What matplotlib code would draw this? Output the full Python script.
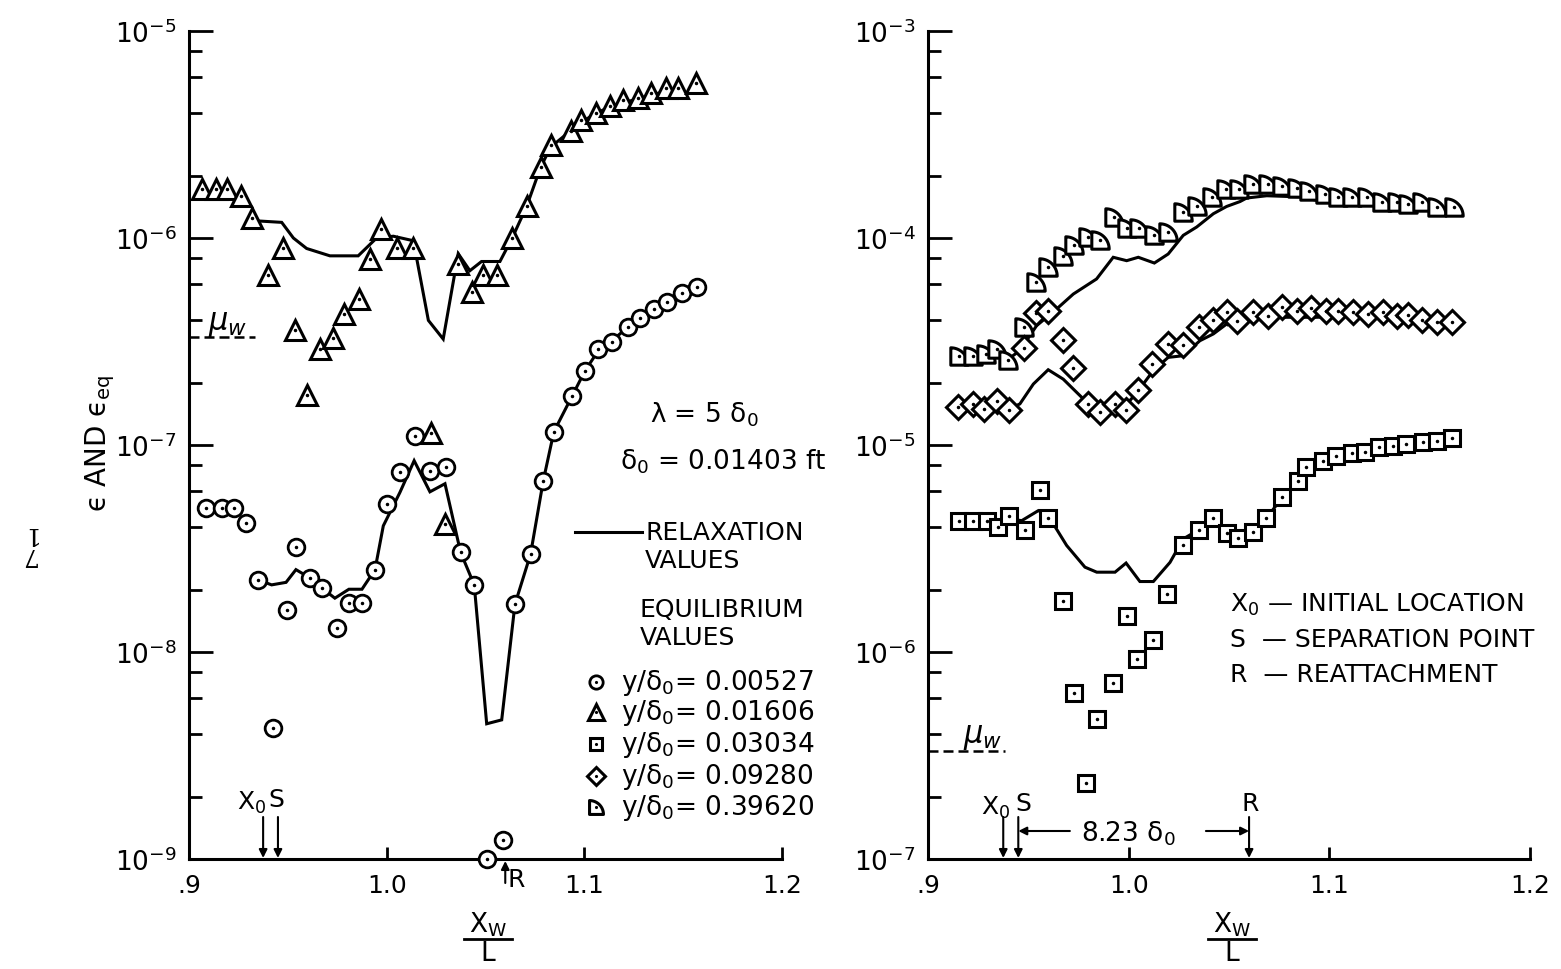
import numpy as np
import matplotlib
matplotlib.use("Agg")
import matplotlib.pyplot as plt
from matplotlib.path import Path
from matplotlib.lines import Line2D
from matplotlib.ticker import LogLocator, NullFormatter, NullLocator, FixedLocator, FixedFormatter

# ---------------- data ----------------
x_ticks = [0.9, 1.0, 1.1, 1.2]
x_tick_labels = [".9", "1.0", "1.1", "1.2"]
MU_W = 3.33e-7
X0_POS, S_POS, R_POS = 0.9375, 0.945, 1.06

legend_labels = ["y/δ$_0$= 0.00527", "y/δ$_0$= 0.01606", "y/δ$_0$= 0.03034",
                 "y/δ$_0$= 0.09280", "y/δ$_0$= 0.39620"]

# left panel: y/d0 = 0.00527 (circles)
L_circ_x = [0.9086, 0.9165, 0.9229, 0.9288, 0.9350, 0.9427, 0.9494, 0.9541, 0.9612, 0.9674,
            0.9747, 0.9809, 0.9875, 0.9941, 1.0000, 1.0067, 1.0143, 1.0219, 1.0298, 1.0374,
            1.0443, 1.0506, 1.0587, 1.0649, 1.0728, 1.0792, 1.0846, 1.0939, 1.1003, 1.1070,
            1.1141, 1.1219, 1.1281, 1.1352, 1.1419, 1.1492, 1.1571]
L_circ_y = [4.97e-8, 4.97e-8, 4.97e-8, 4.2e-8, 2.23e-8, 4.28e-9, 1.6e-8, 3.23e-8, 2.28e-8, 2.03e-8,
            1.3e-8, 1.73e-8, 1.73e-8, 2.5e-8, 5.2e-8, 7.4e-8, 1.1e-7, 7.5e-8, 7.8e-8, 3.03e-8,
            2.11e-8, 1.0e-9, 1.23e-9, 1.7e-8, 2.97e-8, 6.7e-8, 1.16e-7, 1.73e-7, 2.28e-7, 2.91e-7,
            3.16e-7, 3.71e-7, 4.11e-7, 4.54e-7, 4.92e-7, 5.42e-7, 5.78e-7]
L_circ_rel_x = [0.9350, 0.9418, 0.9491, 0.9541, 0.9612, 0.9674, 0.9738, 0.9809, 0.9875, 0.9941,
                0.9983, 1.0067, 1.0139, 1.0219, 1.0295, 1.0374, 1.0443, 1.0506, 1.0582, 1.0649,
                1.0728, 1.0792, 1.0846, 1.0939, 1.1003, 1.1070, 1.1141, 1.1219, 1.1281, 1.1352,
                1.1419, 1.1492, 1.1571]
L_circ_rel_y = [2.23e-8, 2.11e-8, 2.17e-8, 2.5e-8, 2.28e-8, 2.03e-8, 1.82e-8, 2.01e-8, 2.01e-8, 2.5e-8,
                4.07e-8, 5.9e-8, 8.4e-8, 5.94e-8, 6.5e-8, 3.03e-8, 2.11e-8, 4.5e-9, 4.7e-9, 1.7e-8,
                2.97e-8, 6.7e-8, 1.16e-7, 1.73e-7, 2.28e-7, 2.85e-7, 3.2e-7, 3.7e-7, 4.1e-7, 4.5e-7,
                4.9e-7, 5.4e-7, 5.78e-7]

# left panel: y/d0 = 0.01606 (triangles)
L_tri_x = [0.9064, 0.9135, 0.9194, 0.9263, 0.9320, 0.9400, 0.9474, 0.9536, 0.9595, 0.9663,
           0.9727, 0.9783, 0.9861, 0.9916, 0.9971, 1.0054, 1.0135, 1.0223, 1.0295, 1.0362,
           1.0430, 1.0486, 1.0557, 1.0635, 1.0708, 1.0779, 1.0830, 1.0931, 1.0981, 1.1057,
           1.1130, 1.1197, 1.1270, 1.1335, 1.1411, 1.1472, 1.1563]
L_tri_y = [1.73e-6, 1.73e-6, 1.73e-6, 1.60e-6, 1.25e-6, 6.6e-7, 8.9e-7, 3.6e-7, 1.75e-7, 2.9e-7,
           3.3e-7, 4.3e-7, 5.1e-7, 7.9e-7, 1.10e-6, 8.9e-7, 8.9e-7, 1.14e-7, 4.15e-8, 7.5e-7,
           5.5e-7, 6.6e-7, 6.6e-7, 1.0e-6, 1.42e-6, 2.21e-6, 2.82e-6, 3.27e-6, 3.72e-6, 4.02e-6,
           4.33e-6, 4.64e-6, 4.77e-6, 5.01e-6, 5.28e-6, 5.28e-6, 5.59e-6]
L_tri_rel_x = [0.9342, 0.9469, 0.9528, 0.9595, 0.9713, 0.9856, 0.9949, 1.0034, 1.0135, 1.0211,
               1.0286, 1.0362, 1.0421, 1.0480, 1.0573, 1.0635, 1.0708, 1.0779, 1.0830, 1.0931,
               1.0981, 1.1057, 1.1130, 1.1197, 1.1270, 1.1335, 1.1411, 1.1480]
L_tri_rel_y = [1.21e-6, 1.19e-6, 1.0e-6, 8.9e-7, 8.2e-7, 8.2e-7, 1.0e-6, 1.02e-6, 9.7e-7, 4.0e-7,
               3.25e-7, 8.4e-7, 6.95e-7, 7.7e-7, 7.7e-7, 1.0e-6, 1.42e-6, 2.2e-6, 2.75e-6, 3.3e-6,
               3.6e-6, 4.0e-6, 4.3e-6, 4.5e-6, 4.7e-6, 4.9e-6, 5.1e-6, 5.2e-6]

# right panel: y/d0 = 0.03034 (squares)
R_sq_x = [0.9156, 0.9226, 0.9292, 0.9350, 0.9405, 0.9483, 0.9558, 0.9599, 0.9674, 0.9729,
          0.9787, 0.9841, 0.9920, 0.9990, 1.0040, 1.0123, 1.0189, 1.0272, 1.0350, 1.0422,
          1.0491, 1.0546, 1.0618, 1.0684, 1.0765, 1.0842, 1.0883, 1.0970, 1.1031, 1.1114,
          1.1177, 1.1247, 1.1315, 1.1380, 1.1465, 1.1535, 1.1612]
R_sq_y = [4.31e-6, 4.31e-6, 4.31e-6, 4.0e-6, 4.53e-6, 3.9e-6, 6.07e-6, 4.43e-6, 1.76e-6, 6.31e-7,
          2.33e-7, 4.74e-7, 7.06e-7, 1.49e-6, 9.24e-7, 1.14e-6, 1.9e-6, 3.29e-6, 3.88e-6, 4.42e-6,
          3.74e-6, 3.54e-6, 3.78e-6, 4.42e-6, 5.62e-6, 6.68e-6, 7.8e-6, 8.34e-6, 8.88e-6, 9.14e-6,
          9.22e-6, 9.75e-6, 9.86e-6, 1.01e-5, 1.03e-5, 1.04e-5, 1.08e-5]
R_sq_rel_x = [0.9156, 0.9292, 0.9405, 0.9467, 0.9550, 0.9599, 0.9691, 0.9782, 0.9841, 0.9932,
              0.9987, 1.0056, 1.0123, 1.0206, 1.0272, 1.0347, 1.0422, 1.0491, 1.0546, 1.0618,
              1.0684, 1.0765, 1.0842, 1.0883, 1.0970, 1.1031, 1.1114, 1.1247, 1.1380, 1.1535]
R_sq_rel_y = [4.31e-6, 4.31e-6, 4.4e-6, 4.31e-6, 4.82e-6, 4.56e-6, 3.27e-6, 2.57e-6, 2.43e-6, 2.43e-6,
              2.69e-6, 2.19e-6, 2.19e-6, 2.71e-6, 3.52e-6, 3.88e-6, 4.3e-6, 3.85e-6, 3.66e-6, 3.8e-6,
              4.4e-6, 5.57e-6, 6.6e-6, 7.5e-6, 8.3e-6, 8.9e-6, 9.2e-6, 9.7e-6, 1.0e-5, 1.04e-5]

# right panel: y/d0 = 0.09280 (diamonds)
R_dia_x = [0.9148, 0.9223, 0.9280, 0.9345, 0.9405, 0.9478, 0.9538, 0.9599, 0.9671, 0.9724,
           0.9799, 0.9857, 0.9932, 0.9985, 1.0048, 1.0118, 1.0197, 1.0272, 1.0352, 1.0422,
           1.0488, 1.0540, 1.0621, 1.0696, 1.0762, 1.0837, 1.0907, 1.0982, 1.1041, 1.1119,
           1.1191, 1.1266, 1.1335, 1.1393, 1.1460, 1.1535, 1.1612]
R_dia_y = [1.53e-5, 1.58e-5, 1.49e-5, 1.64e-5, 1.47e-5, 2.93e-5, 4.34e-5, 4.43e-5, 3.23e-5, 2.35e-5,
           1.58e-5, 1.45e-5, 1.58e-5, 1.47e-5, 1.85e-5, 2.46e-5, 3.08e-5, 3.04e-5, 3.71e-5, 4.03e-5,
           4.38e-5, 3.98e-5, 4.38e-5, 4.19e-5, 4.63e-5, 4.43e-5, 4.57e-5, 4.43e-5, 4.43e-5, 4.38e-5,
           4.3e-5, 4.38e-5, 4.19e-5, 4.26e-5, 4.03e-5, 3.94e-5, 3.92e-5]
R_dia_rel_x = [0.9405, 0.9458, 0.9525, 0.9599, 0.9674, 0.9774, 0.9857, 0.9932, 0.9985, 1.0048,
               1.0123, 1.0197, 1.0272, 1.0355, 1.0422, 1.0488, 1.0538, 1.0604, 1.0770, 1.0937,
               1.1100, 1.1300, 1.1550]
R_dia_rel_y = [1.49e-5, 1.58e-5, 1.97e-5, 2.31e-5, 2.08e-5, 1.67e-5, 1.49e-5, 1.52e-5, 1.55e-5, 1.83e-5,
               2.29e-5, 2.65e-5, 2.7e-5, 3.19e-5, 3.44e-5, 3.84e-5, 3.92e-5, 4.06e-5, 4.14e-5, 4.14e-5,
               4.2e-5, 4.15e-5, 3.9e-5]

# right panel: y/d0 = 0.39620 (quarter-disc markers)
R_trap_x = [0.9156, 0.9223, 0.9287, 0.9345, 0.9397, 0.9480, 0.9538, 0.9599, 0.9671, 0.9727,
            0.9799, 0.9857, 0.9928, 0.9990, 1.0051, 1.0128, 1.0194, 1.0272, 1.0342, 1.0415,
            1.0485, 1.0550, 1.0621, 1.0696, 1.0765, 1.0840, 1.0900, 1.0978, 1.1041, 1.1111,
            1.1186, 1.1261, 1.1335, 1.1393, 1.1460, 1.1535, 1.1621]
R_trap_y = [2.70e-5, 2.70e-5, 2.75e-5, 2.91e-5, 2.58e-5, 3.73e-5, 6.15e-5, 7.22e-5, 8.2e-5, 9.24e-5,
            1.01e-4, 9.8e-5, 1.27e-4, 1.12e-4, 1.12e-4, 1.03e-4, 1.07e-4, 1.33e-4, 1.43e-4, 1.57e-4,
            1.73e-4, 1.73e-4, 1.82e-4, 1.82e-4, 1.78e-4, 1.74e-4, 1.69e-4, 1.64e-4, 1.58e-4, 1.58e-4,
            1.57e-4, 1.50e-4, 1.50e-4, 1.46e-4, 1.49e-4, 1.41e-4, 1.41e-4]
R_trap_rel_x = [0.9405, 0.9458, 0.9541, 0.9641, 0.9724, 0.9840, 0.9923, 0.9990, 1.0048, 1.0128,
                1.0197, 1.0272, 1.0339, 1.0422, 1.0488, 1.0555, 1.0588, 1.0688, 1.0853, 1.0953,
                1.1103, 1.1300, 1.1500]
R_trap_rel_y = [2.62e-5, 2.86e-5, 3.77e-5, 4.54e-5, 5.36e-5, 6.34e-5, 8.07e-5, 7.77e-5, 8.07e-5, 7.57e-5,
                8.37e-5, 1.03e-4, 1.13e-4, 1.31e-4, 1.42e-4, 1.50e-4, 1.56e-4, 1.6e-4, 1.58e-4, 1.51e-4,
                1.49e-4, 1.48e-4, 1.43e-4]

# ---------------- figure ----------------
W, H = 1561, 970
plt.rcParams['font.family'] = ['DejaVu Sans']
plt.rcParams['mathtext.fontset'] = 'dejavusans'
fig = plt.figure(figsize=(W / 100, H / 100), dpi=100)


def F(px, py):
    return (px / W, 1 - py / H)


# quarter-disc marker
_t = np.linspace(0, np.pi / 2, 24)
_verts = [(-0.5, -0.5)] + [(-0.5 + np.cos(a), -0.5 + np.sin(a)) for a in _t] + [(-0.5, -0.5)]
QMARK = Path(_verts, closed=True)

MK = dict(mfc='white', mec='black', ls='none', clip_on=False, zorder=4)
DOT = dict(marker='.', ms=3, color='black', ls='none', clip_on=False, zorder=5)
LINE = dict(color='black', lw=2.2, zorder=3, solid_joinstyle='miter')

styles = {
    'circ': dict(marker='o', ms=12, mew=2.0),
    'tri': dict(marker='^', ms=14, mew=2.2),
    'sq': dict(marker='s', ms=11, mew=2.2),
    'dia': dict(marker='D', ms=12, mew=2.2),
    'trap': dict(marker=QMARK, ms=12.5, mew=2.2),
}


def markers(ax, x, y, key):
    ax.plot(x, y, **styles[key], **MK)
    ax.plot(x, y, **DOT)


def style_axes(ax, ylim):
    ax.set_yscale('log')
    ax.set_xlim(0.9, 1.2)
    ax.set_ylim(*ylim)
    for s in ['top', 'right']:
        ax.spines[s].set_visible(False)
    for s in ['left', 'bottom']:
        ax.spines[s].set_linewidth(2.2)
    ax.xaxis.set_major_locator(FixedLocator(x_ticks))
    ax.xaxis.set_major_formatter(FixedFormatter(x_tick_labels))
    ax.xaxis.set_minor_locator(NullLocator())
    ax.yaxis.set_major_locator(LogLocator(base=10, numticks=10))
    ax.yaxis.set_minor_locator(LogLocator(base=10, subs=(2, 4, 6, 8), numticks=20))
    ax.yaxis.set_minor_formatter(NullFormatter())
    ax.tick_params(axis='y', which='major', direction='in', length=17, width=2.0,
                   labelsize=19, pad=9)
    ax.tick_params(axis='y', which='minor', direction='in', length=9, width=2.0)
    ax.tick_params(axis='x', which='major', direction='in', length=9, width=2.0,
                   labelsize=18, pad=10)
    ax.xaxis.label.set_visible(False)
    ax.yaxis.label.set_visible(False)
    ax.xaxis.get_offset_text().set_visible(False)
    ax.yaxis.get_offset_text().set_visible(False)


axL = fig.add_axes([189 / W, 1 - 860 / H, (782 - 189) / W, (860 - 32) / H])
axR = fig.add_axes([928 / W, 1 - 860 / H, (1530 - 928) / W, (860 - 32) / H])
style_axes(axL, (1e-9, 1e-5))
style_axes(axR, (1e-7, 1e-3))

# left panel
axL.plot(L_tri_rel_x, L_tri_rel_y, **LINE)
axL.plot(L_circ_rel_x, L_circ_rel_y, **LINE)
markers(axL, L_circ_x, L_circ_y, 'circ')
markers(axL, L_tri_x, L_tri_y, 'tri')

# right panel
axR.plot(R_trap_rel_x, R_trap_rel_y, **LINE)
axR.plot(R_dia_rel_x, R_dia_rel_y, **LINE)
axR.plot(R_sq_rel_x, R_sq_rel_y, **LINE)
markers(axR, R_trap_x, R_trap_y, 'trap')
markers(axR, R_dia_x, R_dia_y, 'dia')
markers(axR, R_sq_x, R_sq_y, 'sq')

# mu_w dashed marks
axL.plot([0.9, 0.9334], [MU_W, MU_W], color='black', lw=1.8, ls=(0, (4, 2)), clip_on=False)
axR.plot([0.9, 0.9384], [MU_W, MU_W], color='black', lw=1.8, ls=(0, (4, 2)), clip_on=False)
fig.text(*F(228, 325), r"$\mu_w$", fontsize=22, ha='center', va='center')
fig.text(*F(983, 738), r"$\mu_w$", fontsize=22, ha='center', va='center')

# arrows (drawn as figure-level annotations in axes-blended coordinates)
AR = dict(arrowstyle='-|>', color='black', lw=1.5, mutation_scale=12, shrinkA=0, shrinkB=0)


def vfrac(py):
    return (860 - py) / 828


for ax, xs in [(axL, [X0_POS, S_POS]), (axR, [X0_POS, S_POS, R_POS])]:
    tr = ax.get_xaxis_transform()
    for xv in xs:
        ax.annotate('', xy=(xv, vfrac(859)), xytext=(xv, vfrac(818)),
                    xycoords=tr, textcoords=tr, arrowprops=AR, annotation_clip=False)
trL = axL.get_xaxis_transform()
axL.annotate('', xy=(R_POS, vfrac(862)), xytext=(R_POS, vfrac(884)),
             xycoords=trL, textcoords=trL, arrowprops=AR, annotation_clip=False)
trR = axR.get_xaxis_transform()
axR.annotate('', xy=(S_POS, vfrac(832)), xytext=(0.9707, vfrac(832)),
             xycoords=trR, textcoords=trR, arrowprops=AR, annotation_clip=False)
axR.annotate('', xy=(R_POS, vfrac(832)), xytext=(1.0385, vfrac(832)),
             xycoords=trR, textcoords=trR, arrowprops=AR, annotation_clip=False)
fig.text(*F(1128, 834), "8.23 δ$_0$", fontsize=19, ha='center', va='center')

fig.text(*F(252, 803), "X$_0$", fontsize=18, ha='center', va='center')
fig.text(*F(276, 800), "S", fontsize=18, ha='center', va='center')
fig.text(*F(516, 880), "R", fontsize=18, ha='center', va='center')
fig.text(*F(996, 808), "X$_0$", fontsize=18, ha='center', va='center')
fig.text(*F(1023, 804), "S", fontsize=18, ha='center', va='center')
fig.text(*F(1250, 804), "R", fontsize=18, ha='center', va='center')

# axis labels
fig.text(*F(100, 443), "ϵ AND ϵ$_{\\rm eq}$", fontsize=20, rotation=90,
         ha='center', va='center')
fig.text(*F(28, 544), "7\n1", fontsize=18, rotation=180, ha='center', va='center',
         family='DejaVu Serif', linespacing=0.85)
for cx in (488, 1232):
    fig.text(*F(cx, 933), "X$_\\mathrm{W}$", fontsize=19, ha='center', va='baseline')
    fig.add_artist(Line2D([(cx - 24) / W, (cx + 24) / W], [1 - 940 / H, 1 - 940 / H],
                          color='black', lw=2.0))
    fig.text(*F(cx, 961), "L", fontsize=19, ha='center', va='baseline')

# left annotations / legend
fig.text(*F(650, 415), "λ = 5 δ$_0$", fontsize=19, ha='left', va='center')
fig.text(*F(620, 462), "δ$_0$ = 0.01403 ft", fontsize=19, ha='left', va='center')
fig.add_artist(Line2D([575 / W, 642 / W], [1 - 533 / H, 1 - 533 / H], color='black', lw=2.2))
fig.text(*F(645, 533), "RELAXATION", fontsize=18, ha='left', va='center')
fig.text(*F(645, 561), "VALUES", fontsize=18, ha='left', va='center')
fig.text(*F(640, 610), "EQUILIBRIUM", fontsize=18, ha='left', va='center')
fig.text(*F(640, 638), "VALUES", fontsize=18, ha='left', va='center')
leg_keys = ['circ', 'tri', 'sq', 'dia', 'trap']
leg_y = [683, 713, 745, 777, 808]
for key, lab, py in zip(leg_keys, legend_labels, leg_y):
    st = dict(styles[key])
    st['ms'] = st['ms'] * 0.8
    fig.add_artist(Line2D([596 / W], [1 - py / H], **st, mfc='white', mec='black', ls='none'))
    fig.add_artist(Line2D([596 / W], [1 - py / H], marker='.', ms=2.5, color='black', ls='none'))
    fig.text(*F(621, py), lab, fontsize=19, ha='left', va='center')

# right annotations
fig.text(*F(1230, 605), "X$_0$ — INITIAL LOCATION", fontsize=18, ha='left', va='center')
fig.text(*F(1230, 640), "S  — SEPARATION POINT", fontsize=18, ha='left', va='center')
fig.text(*F(1230, 675), "R  — REATTACHMENT", fontsize=18, ha='left', va='center')

fig.savefig("out.png", dpi=100, facecolor='white')
